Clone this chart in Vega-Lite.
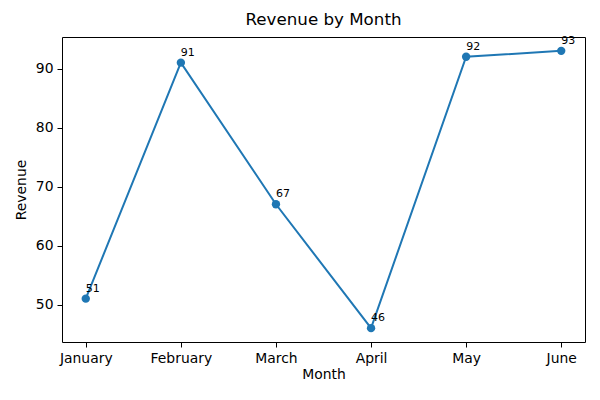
{
  "$schema": "https://vega.github.io/schema/vega-lite/v6.json",
  "width": 523,
  "height": 305,
  "autosize": "none",
  "padding": {"left": 62, "top": 37, "right": 15, "bottom": 58},
  "background": "white",
  "title": {"text": "Revenue by Month", "font": "DejaVu Sans", "fontSize": 16.7, "fontWeight": "normal", "color": "black", "offset": 6},
  "config": {
    "view": {"stroke": "black", "strokeWidth": 1},
    "axis": {"grid": false, "domain": false, "tickColor": "black", "tickSize": 5, "labelColor": "black", "labelFont": "DejaVu Sans", "labelFontSize": 13.9, "titleFont": "DejaVu Sans", "titleFontSize": 13.9, "titleFontWeight": "normal", "titleColor": "black", "labelPadding": 4}
  },
  "data": {"values": [
    {"Month": "January", "Revenue": 51},
    {"Month": "February", "Revenue": 91},
    {"Month": "March", "Revenue": 67},
    {"Month": "April", "Revenue": 46},
    {"Month": "May", "Revenue": 92},
    {"Month": "June", "Revenue": 93}
  ]},
  "encoding": {
    "x": {"field": "Month", "type": "ordinal", "sort": null, "scale": {"type": "point", "padding": 0.25}, "axis": {"labelAngle": 0, "title": "Month", "titlePadding": 3}},
    "y": {"field": "Revenue", "type": "quantitative", "scale": {"domain": [43.65, 95.35], "nice": false, "zero": false}, "axis": {"values": [50, 60, 70, 80, 90], "title": "Revenue", "titlePadding": 7}}
  },
  "layer": [
    {"mark": {"type": "line", "color": "#1f77b4", "strokeWidth": 2}},
    {"mark": {"type": "point", "filled": true, "opacity": 1, "color": "#1f77b4", "size": 70}},
    {"mark": {"type": "text", "font": "DejaVu Sans", "fontSize": 11, "color": "black", "align": "left", "baseline": "bottom", "dx": 0, "dy": -5}, "encoding": {"text": {"field": "Revenue", "type": "quantitative"}}}
  ]
}
